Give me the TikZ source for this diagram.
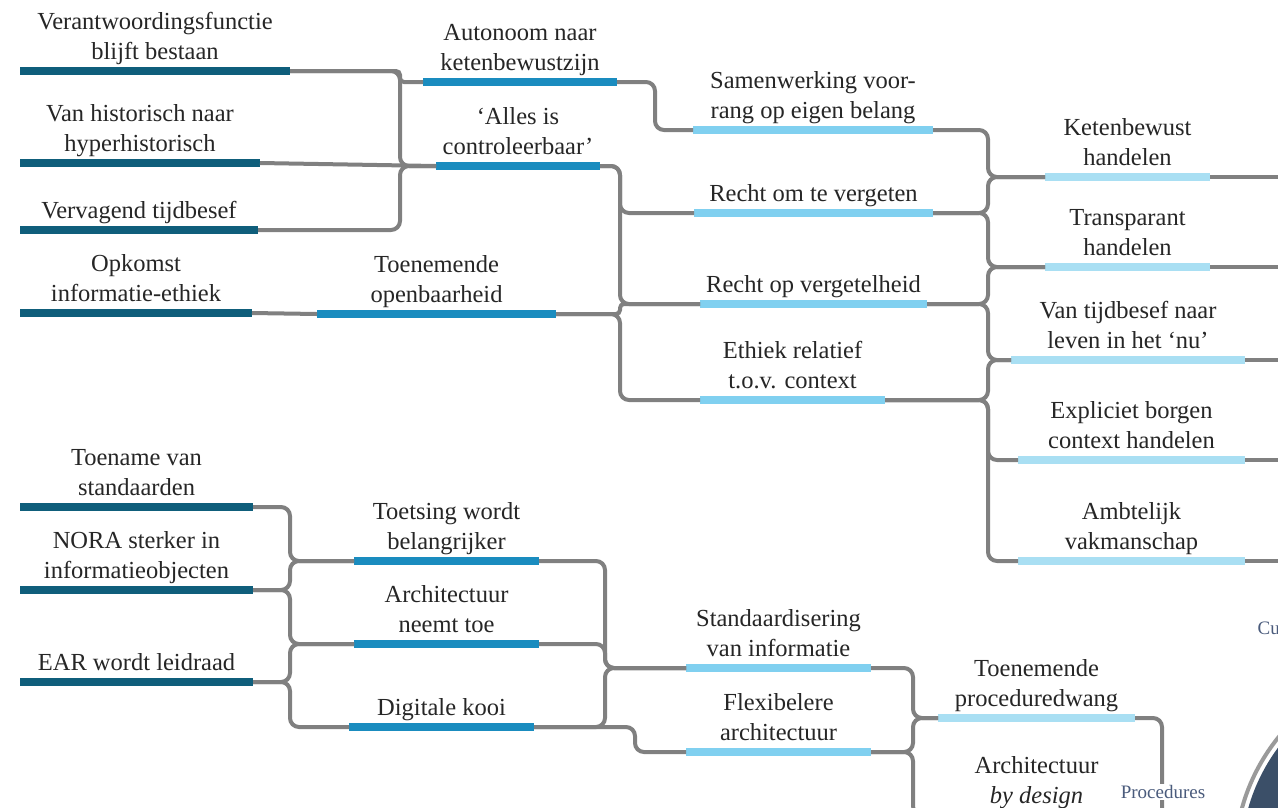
\documentclass[tikz,border=0pt]{standalone}
\usepackage{fontspec}
\setmainfont{Liberation Serif}
\usetikzlibrary{calc}
\definecolor{cA}{HTML}{0F5E7B}
\definecolor{cB}{HTML}{1A8CBF}
\definecolor{cC}{HTML}{80D0F0}
\definecolor{cD}{HTML}{A9DFF3}
\definecolor{ln}{HTML}{808080}
\definecolor{txt}{HTML}{262626}
\definecolor{slate}{HTML}{4A5B7C}
\definecolor{disc}{HTML}{3B4F68}
\definecolor{ringc}{HTML}{9A9A9A}
\begin{document}
\begin{tikzpicture}[x=1pt,y=-1pt,
  bar/.style={fill=#1, draw=none, minimum height=8pt, inner sep=0pt, outer sep=0pt},
  lbl/.style={font=\fontsize{24.5}{30}\selectfont, text=txt, align=center, inner sep=0pt, anchor=south, yshift=-2.5pt},
  conn/.style={draw=ln, line width=4pt, rounded corners=9pt},
  conns/.style={draw=ln, line width=4pt, rounded corners=4pt},
  side/.style={font=\fontsize{19}{22}\selectfont, text=slate, inner sep=1.5pt}
]
\clip (0,0) rectangle (1278,807);
\fill[white] (0,0) rectangle (1278,807);

% disc at bottom right
\fill[disc] (1430,860) circle[radius=189];
\draw[ringc, line width=4pt] (1430,860) circle[radius=195];

% vertical guide coordinates
\coordinate (v1) at (400,0);
\coordinate (v2) at (655,0);
\coordinate (v3) at (620,0);
\coordinate (v4) at (988,0);
\coordinate (v5) at (290,0);
\coordinate (v6) at (605,0);
\coordinate (v7) at (635,0);
\coordinate (v8) at (913,0);
\coordinate (v9) at (1162,0);
\coordinate (edge) at (1290,0);
\coordinate (pend) at (1162,830);

% ---- top: column 1
\node[bar=cA, minimum width=270pt] (a1) at (155,71) {};
\node[lbl] (ta1) at (155,66) {Verantwoordingsfunctie\\blijft bestaan\strut};
\node[bar=cA, minimum width=240pt] (a2) at (140,163) {};
\node[lbl] (ta2) at (140,158) {Van historisch naar\\hyperhistorisch\strut};
\node[bar=cA, minimum width=238pt] (a3) at (139,230) {};
\node[lbl] (ta3) at (139,225) {Vervagend tijdbesef\strut};
\node[bar=cA, minimum width=232pt] (a4) at (136,313) {};
\node[lbl] (ta4) at (136,308) {Opkomst\\informatie-ethiek\strut};
% column 2
\node[bar=cB, minimum width=194pt] (b1) at (520,82) {};
\node[lbl] (tb1) at (520,77) {Autonoom naar\\ketenbewustzijn\strut};
\node[bar=cB, minimum width=164pt] (b2) at (518,166) {};
\node[lbl] (tb2) at (518,161) {‘Alles is\\controleerbaar’\strut};
\node[bar=cB, minimum width=239pt] (b3) at (436.5,314) {};
\node[lbl] (tb3) at (436.5,309) {Toenemende\\openbaarheid\strut};
% column 3
\node[bar=cC, minimum width=240pt] (c1) at (813,130) {};
\node[lbl] (tc1) at (813,125) {Samenwerking voor-\\rang op eigen belang\strut};
\node[bar=cC, minimum width=239pt] (c2) at (813.5,213) {};
\node[lbl] (tc2) at (813.5,208) {Recht om te vergeten\strut};
\node[bar=cC, minimum width=227pt] (c3) at (813.5,304) {};
\node[lbl] (tc3) at (813.5,299) {Recht op vergetelheid\strut};
\node[bar=cC, minimum width=185pt] (c4) at (792.5,400) {};
\node[lbl] (tc4) at (792.5,395) {Ethiek relatief\\t.o.v. context\strut};
% column 4
\node[bar=cD, minimum width=165pt] (d1) at (1127.5,177) {};
\node[lbl] (td1) at (1127.5,172) {Ketenbewust\\handelen\strut};
\node[bar=cD, minimum width=165pt] (d2) at (1127.5,267) {};
\node[lbl] (td2) at (1127.5,262) {Transparant\\handelen\strut};
\node[bar=cD, minimum width=234pt] (d3) at (1128,360) {};
\node[lbl] (td3) at (1128,355) {Van tijdbesef naar\\leven in het ‘nu’\strut};
\node[bar=cD, minimum width=227pt] (d4) at (1131.5,460) {};
\node[lbl] (td4) at (1131.5,455) {Expliciet borgen\\context handelen\strut};
\node[bar=cD, minimum width=227pt] (d5) at (1131.5,561) {};
\node[lbl] (td5) at (1131.5,556) {Ambtelijk\\vakmanschap\strut};

% ---- bottom: column 1
\node[bar=cA, minimum width=233pt] (e1) at (136.5,507) {};
\node[lbl] (te1) at (136.5,502) {Toename van\\standaarden\strut};
\node[bar=cA, minimum width=233pt] (e2) at (136.5,590) {};
\node[lbl] (te2) at (136.5,585) {NORA sterker in\\informatieobjecten\strut};
\node[bar=cA, minimum width=233pt] (e3) at (136.5,682) {};
\node[lbl] (te3) at (136.5,677) {EAR wordt leidraad\strut};
% column 2
\node[bar=cB, minimum width=185pt] (f1) at (446.5,561) {};
\node[lbl] (tf1) at (446.5,556) {Toetsing wordt\\belangrijker\strut};
\node[bar=cB, minimum width=185pt] (f2) at (446.5,644) {};
\node[lbl] (tf2) at (446.5,639) {Architectuur\\neemt toe\strut};
\node[bar=cB, minimum width=185pt] (f3) at (441.5,727) {};
\node[lbl] (tf3) at (441.5,722) {Digitale kooi\strut};
% column 3
\node[bar=cC, minimum width=185pt] (g1) at (778.5,668) {};
\node[lbl] (tg1) at (778.5,663) {Standaardisering\\van informatie\strut};
\node[bar=cC, minimum width=185pt] (g2) at (778.5,752) {};
\node[lbl] (tg2) at (778.5,747) {Flexibelere\\architectuur\strut};
% column 4
\node[bar=cD, minimum width=197pt] (h1) at (1036.5,718) {};
\node[lbl] (th1) at (1036.5,713) {Toenemende\\proceduredwang\strut};
\node[bar=cD, minimum width=197pt] (h2) at (1036.5,815) {};
\node[lbl] (th2) at (1036.5,810) {Architectuur\\\textit{by design}\strut};

% ---- connectors top
\draw[conns] (a1.east) -- (a1.east -| v1) -- (b1.west -| v1) -- (b1.west);
\draw[conn] (a1.east) -- (a1.east -| v1) -- (b2.west -| v1) -- (b2.west);
\draw[conn] (a2.east) -- (b2.west);
\draw[conn] (a3.east) -- (a3.east -| v1) -- (b2.west -| v1) -- (b2.west);
\draw[conn] (a4.east) -- (b3.west);
\draw[conn] (b1.east) -- (b1.east -| v2) -- (c1.west -| v2) -- (c1.west);
\draw[conn] (b2.east) -- (b2.east -| v3) -- (c2.west -| v3) -- (c2.west);
\draw[conn] (b2.east) -- (b2.east -| v3) -- (c3.west -| v3) -- (c3.west);
\draw[conns] (b3.east) -- (b3.east -| v3) -- (c3.west -| v3) -- (c3.west);
\draw[conn] (b3.east) -- (b3.east -| v3) -- (c4.west -| v3) -- (c4.west);
\draw[conn] (c1.east) -- (c1.east -| v4) -- (d1.west -| v4) -- (d1.west);
\draw[conn] (c2.east) -- (c2.east -| v4) -- (d1.west -| v4) -- (d1.west);
\draw[conn] (c2.east) -- (c2.east -| v4) -- (d2.west -| v4) -- (d2.west);
\draw[conn] (c3.east) -- (c3.east -| v4) -- (d2.west -| v4) -- (d2.west);
\draw[conn] (c3.east) -- (c3.east -| v4) -- (d3.west -| v4) -- (d3.west);
\draw[conn] (c4.east) -- (c4.east -| v4) -- (d3.west -| v4) -- (d3.west);
\draw[conn] (c4.east) -- (c4.east -| v4) -- (d4.west -| v4) -- (d4.west);
\draw[conn] (c4.east) -- (c4.east -| v4) -- (d5.west -| v4) -- (d5.west);
\draw[conn] (d1.east) -- (d1.east -| edge);
\draw[conn] (d2.east) -- (d2.east -| edge);
\draw[conn] (d3.east) -- (d3.east -| edge);
\draw[conn] (d4.east) -- (d4.east -| edge);
\draw[conn] (d5.east) -- (d5.east -| edge);

% ---- connectors bottom
\draw[conn] (e1.east) -- (e1.east -| v5) -- (f1.west -| v5) -- (f1.west);
\draw[conn] (e2.east) -- (e2.east -| v5) -- (f1.west -| v5) -- (f1.west);
\draw[conn] (e2.east) -- (e2.east -| v5) -- (f2.west -| v5) -- (f2.west);
\draw[conn] (e3.east) -- (e3.east -| v5) -- (f2.west -| v5) -- (f2.west);
\draw[conn] (e3.east) -- (e3.east -| v5) -- (f3.west -| v5) -- (f3.west);
\draw[conn] (f1.east) -- (f1.east -| v6) -- (g1.west -| v6) -- (g1.west);
\draw[conn] (f2.east) -- (f2.east -| v6) -- (g1.west -| v6) -- (g1.west);
\draw[conn] (f3.east) -- (f3.east -| v6) -- (g1.west -| v6) -- (g1.west);
\draw[conn] (f3.east) -- (f3.east -| v7) -- (g2.west -| v7) -- (g2.west);
\draw[conn] (g1.east) -- (g1.east -| v8) -- (h1.west -| v8) -- (h1.west);
\draw[conn] (g2.east) -- (g2.east -| v8) -- (h1.west -| v8) -- (h1.west);
\draw[conn] (g2.east) -- (g2.east -| v8) -- (h2.west -| v8) -- (h2.west);
\draw[conn] (h1.east) -- (h1.east -| v9) -- (pend);

% side labels
\node[side, fill=white] (proc) at (1163,792) {Procedures};
\node[side, anchor=west] (cu) at (1256,628) {Cu};
\end{tikzpicture}
\end{document}
